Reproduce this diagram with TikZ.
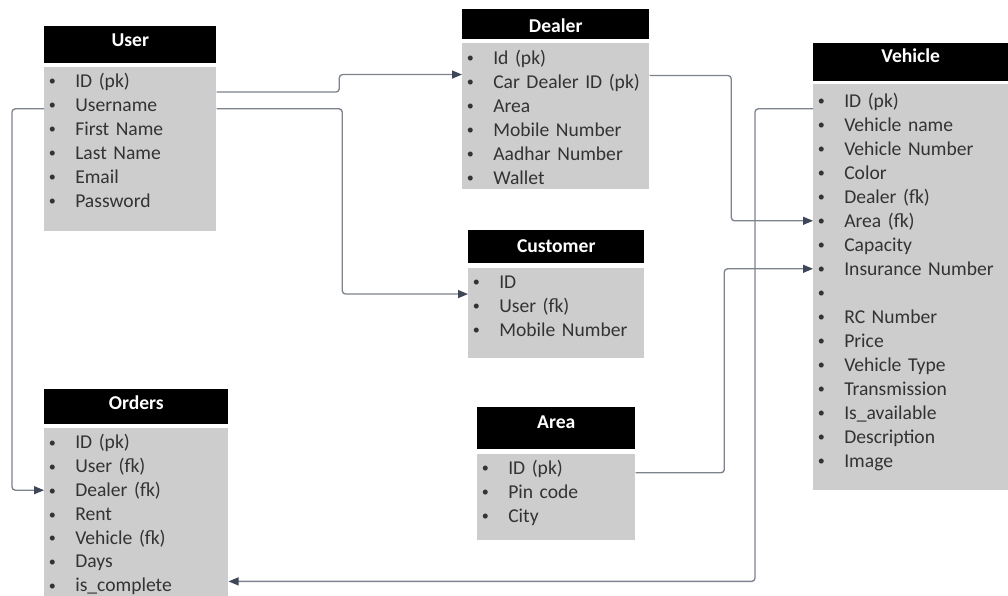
\documentclass[tikz,border=0pt]{standalone}
\usepackage{fontspec}
\usepackage{graphicx}
\setmainfont{Carlito}
\usetikzlibrary{positioning,calc,arrows.meta}
\newdimen\pxu \pxu=0.75pt
\definecolor{bodygray}{HTML}{CDCDCD}
\definecolor{itemtext}{HTML}{333333}
\definecolor{linkgray}{HTML}{7D838C}
\definecolor{tipgray}{HTML}{3E4757}
\newcommand{\itm}[1]{\makebox[16\pxu][c]{\raisebox{0.9pt}{\scalebox{0.72}{\textbullet}}}\hspace{15\pxu}#1}
\newcommand{\tblfont}{\fontsize{14.7}{17}\selectfont}

\begin{document}
\begin{tikzpicture}[x=0.75pt,y=-0.75pt,>={Triangle[length=7.5pt,width=6pt,color=tipgray]},
    font=\tblfont,
    hdr/.style n args={3}{fill=black,text=white,font=\tblfont\bfseries,anchor=north west,inner sep=0pt,
      minimum width=#1\pxu,text height=#2\pxu,text depth=#3\pxu},
    body/.style 2 args={fill=bodygray,inner sep=0pt,minimum width=#1\pxu,minimum height=#2\pxu},
    row/.style={anchor=north west,inner sep=0pt,text=itemtext,align=left,minimum height=18pt,
      text width=#1\pxu,text height=9.5pt,text depth=0pt},
    link/.style={->,draw=linkgray,line width=1pt,rounded corners=2.5pt}]
  \useasboundingbox (0,0) rectangle (1008,596);

  % user
  \node[hdr={172}{20.4}{16.6}] (uhead) at (44,26) {User};
  \node[body={172}{164}] (ubody) [below=2.25pt of uhead] {};
  \foreach \t [count=\i] in {ID (pk),Username,First Name,Last Name,Email,Password}
    \node[row=172] (u\i) at ($(ubody.north west)+(0,24*\i-22)$) {\itm{\t}};

  % dealer
  \node[hdr={187}{23}{7}] (dhead) at (462,9) {Dealer};
  \node[body={187}{146}] (dbody) [below=2.25pt of dhead] {};
  \foreach \t [count=\i] in {Id (pk),Car Dealer ID (pk),Area,Mobile Number,Aadhar Number,Wallet}
    \node[row=187] (d\i) at ($(dbody.north west)+(0,24*\i-21)$) {\itm{\t}};

  % customer
  \node[hdr={176}{22.4}{10.6}] (chead) at (468,230) {Customer};
  \node[body={176}{90}] (cbody) [below=3pt of chead] {};
  \foreach \t [count=\i] in {ID,User (fk),Mobile Number}
    \node[row=176] (c\i) at ($(cbody.north west)+(0,24*\i-22)$) {\itm{\t}};

  % area
  \node[hdr={158}{21.4}{20.6}] (ahead) at (477,407) {Area};
  \node[body={158}{86}] (abody) [below=3pt of ahead] {};
  \foreach \t [count=\i] in {ID (pk),Pin code,City}
    \node[row=158] (a\i) at ($(abody.north west)+(0,24*\i-22)$) {\itm{\t}};

  % orders
  \node[hdr={184}{20.4}{14.6}] (ohead) at (44,389) {Orders};
  \node[body={184}{175}] (obody) [below=2.25pt of ohead] {};
  \foreach \t [count=\i] in {ID (pk),User (fk),Dealer (fk),Rent,Vehicle (fk),Days,is\_complete}
    \node[row=184] (o\i) at ($(obody.north west)+(0,23.8*\i-21)$) {\itm{\t}};

  % vehicle
  \node[hdr={195}{19}{19}] (vhead) at (813,43) {Vehicle};
  \node[body={195}{406}] (vbody) [below=1.5pt of vhead] {};
  \foreach \t [count=\i] in {ID (pk),Vehicle name,Vehicle Number,Color,Dealer (fk),Area (fk),
      Capacity,Insurance Number,,RC Number,Price,Vehicle Type,Transmission,Is\_available,
      Description,Image}
    \node[row=195] (v\i) at ($(vbody.north west)+(0,24*\i-19)$) {\itm{\t}};

  % links
  \draw[link] ([yshift=1\pxu]u1.south east) -| ($(u1.east)!.5!(d2.west)$) |- ([yshift=-5\pxu]d2.north west);
  \draw[link] ([yshift=-4\pxu]u2.east) -| ($(u2.east)!.5!(c1.west)$) |- (c1.south west);
  \draw[link] ([yshift=-4\pxu]u2.west) -- ++(-32,0) |- (o3.west);
  \draw[link] ([yshift=-6\pxu]d2.north east) -| ($(d2.east)!.5!(v6.west)$) |- (v6.west);
  \draw[link] ([yshift=-5\pxu]a1.east) -| ($(a1.east)!.5!(v8.west)$) |- (v8.west);
  \draw[link] ([yshift=-8\pxu]v1.west) -- ++(-58,0) |- ([yshift=4\pxu]o7.east);
\end{tikzpicture}
\end{document}
